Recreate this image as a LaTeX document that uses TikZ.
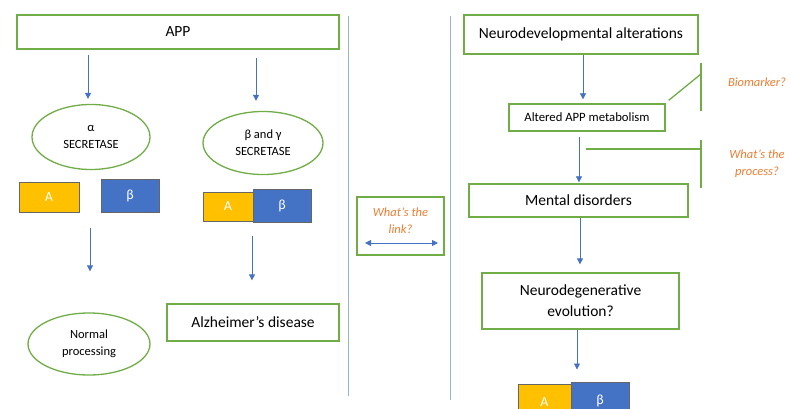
\documentclass[tikz,border=0pt]{standalone}
\usepackage{fontspec}
\setmainfont{Carlito}
\usetikzlibrary{arrows.meta,shapes.geometric,calc}

\definecolor{boxgreen}{RGB}{112,173,71}
\definecolor{arrowblue}{RGB}{68,114,196}
\definecolor{fragyellow}{RGB}{255,192,0}
\definecolor{fragblue}{RGB}{68,114,196}
\definecolor{qorange}{RGB}{237,125,49}
\definecolor{sepblue}{RGB}{150,178,222}

\begin{document}
\begin{tikzpicture}[x=1pt,y=-1pt,
  greenbox/.style={draw=boxgreen, line width=1.3pt, align=center, inner sep=0pt,
    font=\fontsize{15.5}{21}\selectfont},
  smallbox/.style={greenbox, font=\fontsize{12.7}{17}\selectfont},
  greenoval/.style={ellipse, draw=boxgreen, line width=1.3pt, align=center, inner sep=0pt,
    font=\fontsize{12.5}{17}\selectfont},
  fragA/.style={draw=black!60, line width=1pt, fill=fragyellow, text=white, inner sep=0pt,
    font=\fontsize{14}{16}\selectfont},
  fragB/.style={fragA, fill=fragblue},
  arr/.style={draw=arrowblue, line width=0.8pt, -{Triangle[width=6pt,length=6pt]}},
  sepline/.style={draw=sepblue, line width=1pt},
  bracket/.style={draw=boxgreen, line width=1.3pt},
  question/.style={text=qorange, align=center, font=\itshape\fontsize{12.5}{17}\selectfont}]
	\useasboundingbox (0,0) rectangle (790,409);
	\clip (0,0) rectangle (790,409);
	% left column: APP processing
	\node[greenbox, minimum width=322pt, minimum height=34pt] (app) at (178,32) {APP};
	\node[greenoval, minimum width=118pt, minimum height=65pt] (alpha) at (91,137) {α\\SECRETASE};
	\node[greenoval, minimum width=120pt, minimum height=63pt] (betagamma) at (263,143) {β and γ\\SECRETASE};
	\node[fragA, minimum width=60pt, minimum height=30pt] (aleft) at (49,197) {A};
	\node[fragB, minimum width=58pt, minimum height=32pt] (bleft) at (130,196) {β};
	\node[fragA, minimum width=50pt, minimum height=29pt] (aright) at (228,206.5) {A};
	\node[fragB, minimum width=58pt, minimum height=33pt] (bright) at (282,205.5) {β};
	\node[greenoval, minimum width=122pt, minimum height=62pt] (normal) at (89,344) {Normal\\processing};
	\node[greenbox, minimum width=172pt, minimum height=37pt] (alz) at (253,322.5) {Alzheimer’s disease};
	\draw[arr, shorten <=5pt, shorten >=5pt] (app.south -| 88,0) -- (alpha.north -| 88,0);
	\draw[arr, shorten <=8pt, shorten >=10pt] (app.south -| 256,0) -- (betagamma.north -| 256,0);
	\draw[arr, shorten <=15pt, shorten >=41pt] (aleft.south -| 90,0) -- (normal.north -| 90,0);
	\draw[arr, shorten <=13pt, shorten >=23pt] (bright.south -| 252,0) -- (alz.north -| 252,0);
	% middle: separators and link
	\draw[sepline] (348,16) -- (348,396);
	\draw[sepline] (450,16) -- (450,400);
	\node[greenbox, minimum width=87pt, minimum height=58pt] (linkbox) at (400.5,226) {};
	\node[question] (linktext) at (400.5,220.5) {What’s the\\link?};
	\coordinate (linkL) at (365,243);
	\coordinate (linkR) at (438,243);
	\draw[arr, {Triangle[width=6pt,length=6pt]}-{Triangle[width=6pt,length=6pt]}] (linkL) -- (linkR);
	% right column: neurodevelopment
	\node[greenbox, minimum width=234pt, minimum height=39pt] (neurodev) at (581,34.5) {Neurodevelopmental alterations};
	\node[smallbox, minimum width=156pt, minimum height=27pt] (altered) at (587,117.5) {Altered APP metabolism};
	\node[greenbox, minimum width=219pt, minimum height=33pt] (mental) at (578.5,200.5) {Mental disorders};
	\node[greenbox, minimum width=197pt, minimum height=56pt] (neurodeg) at (580.5,301) {Neurodegenerative\\evolution?};
	\node[fragA, minimum width=53pt, minimum height=36pt] (abottom) at (544.5,402) {A};
	\node[fragB, minimum width=58pt, minimum height=38pt] (bbottom) at (600,401) {β};
	\draw[arr, shorten >=4pt] (neurodev.south -| 583,0) -- (altered.north -| 583,0);
	\draw[arr, shorten <=5pt, shorten >=1pt] (altered.south -| 579,0) -- (mental.north -| 579,0);
	\draw[arr, shorten >=8pt] (mental.south -| 580,0) -- (neurodeg.north -| 580,0);
	\draw[arr, shorten >=14pt] (neurodeg.south -| 577,0) -- (abottom.north -| 577,0);
	% brackets with questions
	\coordinate (bioTop) at (701,63);
	\coordinate (bioBot) at (701,111);
	\coordinate (bioTip) at (701,74);
	\draw[bracket] (bioTop) -- (bioBot);
	\draw[bracket] ($(altered.north east)+(3,-3)$) -- (bioTip);
	\node[question] (bio) at (757,82) {Biomarker?};
	\coordinate (procTop) at (701,140);
	\coordinate (procBot) at (701,188);
	\coordinate (procTip) at (701,149);
	\coordinate (procStart) at (586,149);
	\draw[bracket] (procTop) -- (procBot);
	\draw[bracket] (procStart) -- (procTip);
	\node[question] (proc) at (757,164) {What’s the\\process?};
\end{tikzpicture}
\end{document}
